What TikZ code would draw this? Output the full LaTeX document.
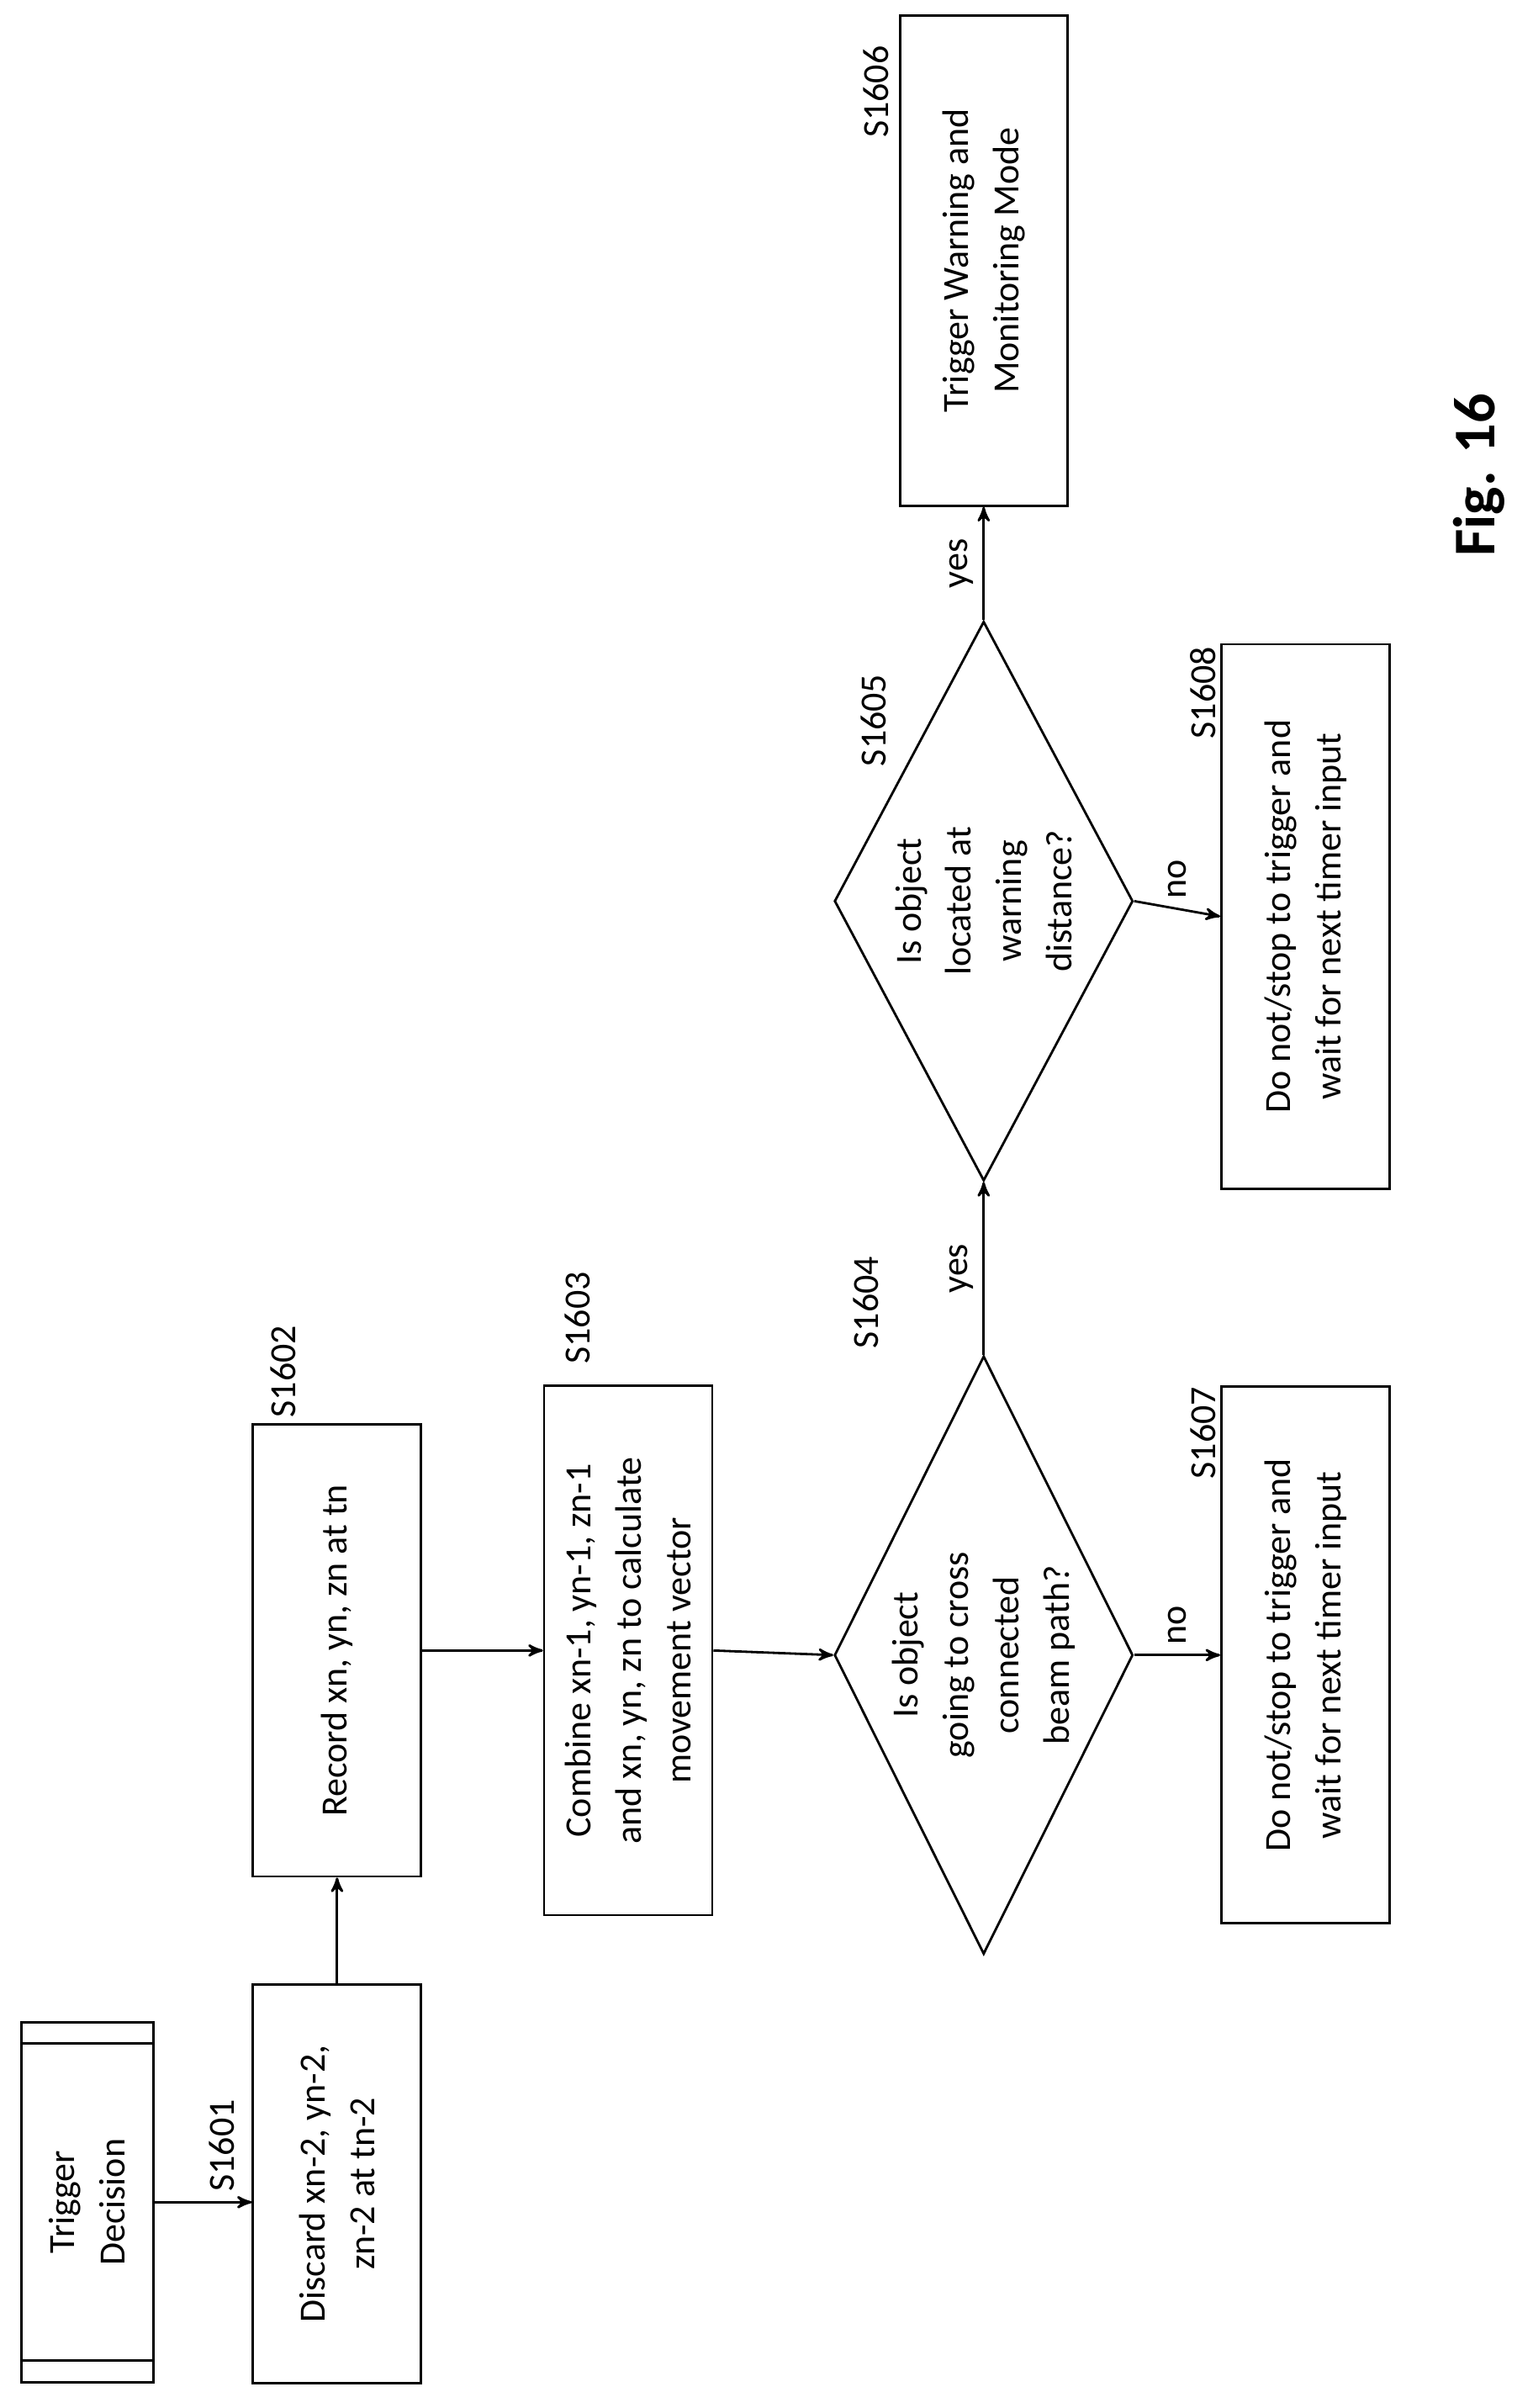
\documentclass[tikz,border=0pt]{standalone}
\usepackage{fontspec}
\setmainfont{Carlito}
\usetikzlibrary{shapes.geometric, arrows, calc}
\tikzset{>=stealth',
         every node/.style={font=\fontsize{12.5}{17}\selectfont},
         rot/.style={rotate=90, align=center},
         stepbox/.style={rot, draw, thick, inner sep=2pt},
         dec/.style={rotate=90, draw, thick, diamond, inner sep=0pt},
         tag/.style={rot},
         lbl/.style={rot, inner sep=3pt},
         }

\begin{document}
\begin{tikzpicture}[x=0.01822cm, y=-0.01822cm]
    \useasboundingbox (0,0) rectangle (1000,1571.3);

    \node[stepbox, minimum width=4.28cm, minimum height=1.57cm] (trig) at (57,1437) {Trigger\\Decision};
    \draw[thick] ($(trig.north east)!0.27cm!(trig.north west)$) -- ($(trig.south east)!0.27cm!(trig.south west)$)
                 ($(trig.north west)!0.27cm!(trig.north east)$) -- ($(trig.south west)!0.27cm!(trig.south east)$);

    \node[stepbox, minimum width=4.74cm, minimum height=2.0cm] (s1601) at (220,1425) {Discard xn-2, yn-2,\\zn-2 at tn-2};
    \node[stepbox, minimum width=5.37cm, minimum height=2.0cm] (s1602) at (220,1077) {Record xn, yn, zn at tn};
    \node[stepbox, minimum width=6.29cm, minimum height=2.0cm] (s1603) at (410,1077) {Combine xn-1, yn-1, zn-1\\and xn, yn, zn to calculate\\movement vector};
    \node[dec, minimum width=7.11cm, minimum height=3.55cm] (s1604) at (642,1080) {};
    \node[rot] (t1604) at (s1604) {Is object\\going to cross\\connected\\beam path?};
    \node[stepbox, minimum width=6.38cm, minimum height=2.0cm] (s1607) at (852,1080) {Do not/stop to trigger and\\wait for next timer input};
    \node[dec, minimum width=6.65cm, minimum height=3.55cm] (s1605) at (642,588) {};
    \node[rot] (t1605) at (s1605) {Is object\\located at\\warning\\distance?};
    \node[stepbox, minimum width=6.47cm, minimum height=2.0cm] (s1608) at (852,598) {Do not/stop to trigger and\\wait for next timer input};
    \node[stepbox, minimum width=5.83cm, minimum height=1.99cm] (s1606) at (642,170) {Trigger Warning and\\Monitoring Mode};

    % step numbers
    \node[tag] (n1601) at (145,1400) {S1601};
    \node[tag] (n1602) at (185,895) {S1602};
    \node[tag] (n1603) at (377,860) {S1603};
    \node[tag] (n1604) at (565,850) {S1604};
    \node[tag] (n1607) at (785,935) {S1607};
    \node[tag] (n1605) at (570,470) {S1605};
    \node[tag] (n1608) at (785,452) {S1608};
    \node[tag] (n1606) at (572,60) {S1606};
    \node[rot, font=\fontsize{20}{24}\selectfont\bfseries] (fig) at (965,310) {Fig. 16};

    \draw[->, thick] (trig.south) -- (trig.south -| s1601.north);
    \draw[->, thick] (s1601.east) -- (s1602.west);
    \draw[->, thick] (s1602.south) -- (s1603.north);
    \draw[->, thick] (s1603.south) -- (s1604.north);
    \draw[->, thick] (s1604.south) -- node[lbl, anchor=west] {no} (s1607.north);
    \draw[->, thick] (s1604.east) -- node[lbl, anchor=south] {yes} (s1605.west);
    \draw[->, thick] (s1605.south) -- node[lbl, anchor=west] {no} (s1608.north);
    \draw[->, thick] (s1605.east) -- node[lbl, anchor=south] {yes} (s1606.west);
\end{tikzpicture}
\end{document}
